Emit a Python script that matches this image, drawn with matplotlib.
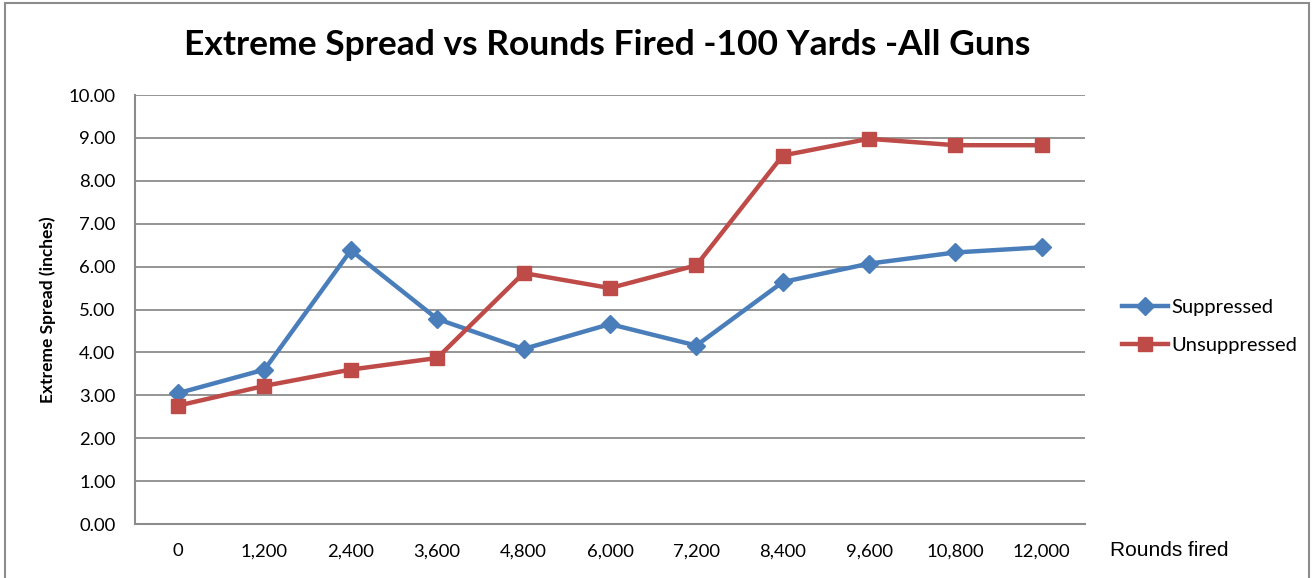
import matplotlib
matplotlib.use("Agg")
import matplotlib.pyplot as plt
from matplotlib.patches import Rectangle

rounds = ["0", "1,200", "2,400", "3,600", "4,800", "6,000", "7,200",
          "8,400", "9,600", "10,800", "12,000"]
suppressed = [3.05, 3.60, 6.38, 4.78, 4.08, 4.66, 4.16, 5.64, 6.07, 6.33, 6.45]
unsuppressed = [2.76, 3.22, 3.60, 3.87, 5.85, 5.50, 6.03, 8.59, 8.98, 8.83, 8.83]

blue = "#4A7EBB"
red = "#BE4B48"
font = ["Lato", "DejaVu Sans"]

fig = plt.figure(figsize=(13.14, 5.78), dpi=100)
ax = fig.add_axes([0.1027, 0.0934, 0.723, 0.7422])

x = range(len(rounds))
ax.plot(x, suppressed, color=blue, lw=3.2, marker="D", ms=9, label="Suppressed")
ax.plot(x, unsuppressed, color=red, lw=3.2, marker="s", ms=10, label="Unsuppressed")

ax.set_xlim(-0.5, len(rounds) - 0.5)
ax.set_ylim(0, 10)
ax.set_yticks([i for i in range(11)])
ax.set_yticklabels(["%.2f" % i for i in range(11)], fontfamily=font, fontsize=13.3)
ax.set_xticks(list(x))
ax.set_xticklabels(rounds, fontfamily=font, fontsize=13.3)
ax.tick_params(axis="y", length=0, pad=14)
ax.tick_params(axis="x", length=0, pad=14)

ax.grid(axis="y", color="#8c8c8c", lw=1.3)
ax.set_axisbelow(True)
for s in ["top", "right"]:
    ax.spines[s].set_visible(False)
for s in ["left", "bottom"]:
    ax.spines[s].set_color("#8c8c8c")
    ax.spines[s].set_linewidth(1.5)

ax.set_ylabel("Extreme Spread (inches)", fontfamily=font, fontsize=12.5,
              fontweight="bold", labelpad=9)

fig.text(0.462, 0.922, "Extreme Spread vs Rounds Fired -100 Yards -All Guns",
         ha="center", va="center", fontfamily=font, fontsize=25.5, fontweight="bold")
fig.text(0.8447, 0.048, "Rounds fired", ha="left", va="center",
         fontfamily="Liberation Sans", fontsize=15)

leg = ax.legend(loc="center left", bbox_to_anchor=(1.02, 0.46), frameon=False,
                prop={"family": font, "size": 14.5}, handlelength=2.3,
                handletextpad=0.15, labelspacing=1.05)

fig.patches.append(Rectangle((0.004, -0.01), 0.992, 1.004, transform=fig.transFigure,
                             fill=False, edgecolor="#8c8c8c", lw=1.5))

fig.savefig("out.png", dpi=100)
